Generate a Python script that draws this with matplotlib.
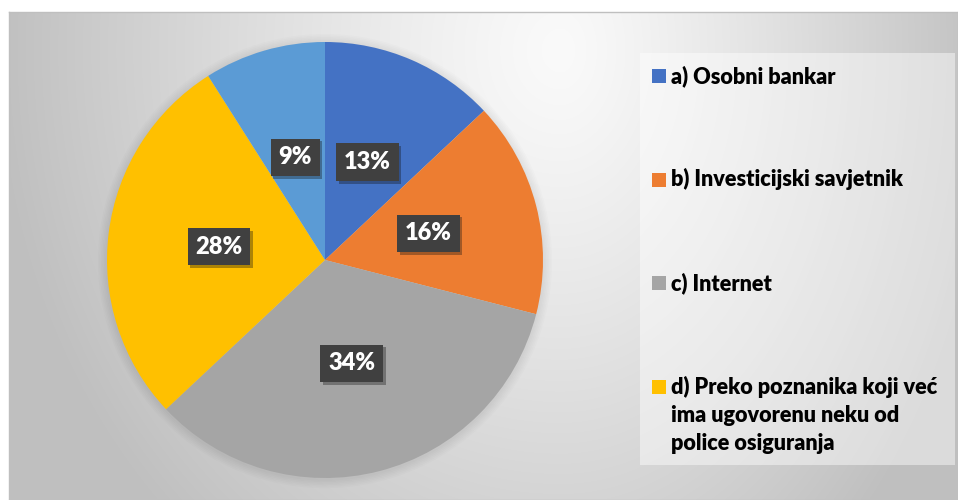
import numpy as np
import matplotlib.pyplot as plt
from matplotlib.patches import Rectangle, Circle
import matplotlib.patheffects as pe

# podaci
labels = ["a) Osobni bankar", "b) Investicijski savjetnik", "c) Internet",
          "d) Preko poznanika koji već\nima ugovorenu neku od\npolice osiguranja"]
values = [13, 16, 34, 28, 9]
colors = ["#4472C4", "#ED7D31", "#A5A5A5", "#FFC000", "#5B9BD5"]

W, H = 958, 500
fig = plt.figure(figsize=(W / 100, H / 100), dpi=100)
fig.patch.set_facecolor("white")

# pozadina s gradijentom
bg = fig.add_axes([9 / W, 0, 1 - 9 / W, 1 - 12 / H])
yy, xx = np.mgrid[12:H, 9:W]
dx = (xx - 560) / np.where(xx < 560, 1.3, 1.0)
dy = (yy - 50) / 1.5
d = np.clip(np.hypot(dx, dy) / 430, 0, 1)
v = 250 - 58 * d ** 1.2
bg.imshow(np.dstack([v, v, v]) / 255, aspect="auto", extent=(0, 1, 0, 1))
bg.set_xlim(0, 1)
bg.set_ylim(0, 1)
bg.set_xticks([])
bg.set_yticks([])
for s in bg.spines.values():
    s.set_color("#bfbfbf")
    s.set_linewidth(1)

# okvir legende
fig.patches.append(Rectangle((640 / W, 1 - 465 / H), 315 / W, 412 / H,
                             transform=fig.transFigure, fc="white", alpha=0.45,
                             ec="none", zorder=1))

# pita
R = 218
cx, cy = 325, 260
ax = fig.add_axes([(cx - R) / W, (H - cy - R) / H, 2 * R / W, 2 * R / H])
ax.set_facecolor("none")
for k in range(6):
    ax.add_patch(Circle((0, -0.005), 1 + 0.007 * (k + 1), color="black",
                        alpha=0.012, lw=0, zorder=0, clip_on=False))
wedges, _ = ax.pie(values, colors=colors, startangle=90, counterclock=False,
                   radius=1, wedgeprops=dict(linewidth=0))
for w in wedges:
    w.set_zorder(2)
ax.set_xlim(-1, 1)
ax.set_ylim(-1, 1)
ax.axis("off")

fam = ["Lato", "DejaVu Sans"]
for w, val in zip(wedges, values):
    ang = np.deg2rad((w.theta1 + w.theta2) / 2)
    t = ax.text(0.49 * np.cos(ang), 0.49 * np.sin(ang), f"{val}%",
                ha="center", va="center", color="white", fontsize=17,
                fontweight="heavy", family=fam, zorder=5,
                bbox=dict(boxstyle="square,pad=0.33", fc="#404040", ec="none"))
    t.get_bbox_patch().set_path_effects(
        [pe.SimplePatchShadow(offset=(2, -2), alpha=0.35), pe.Normal()])

# legenda
y0 = 83
for i, lab in enumerate(labels):
    base = y0 + i * 103.5
    fig.patches.append(Rectangle((652 / W, 1 - base / H), 14 / W, 14 / H,
                                 transform=fig.transFigure, fc=colors[i],
                                 ec="none", zorder=3))
    for j, line in enumerate(lab.split("\n")):
        fig.text(671 / W, 1 - (base + 28 * j) / H, line, ha="left",
                 va="baseline", fontsize=15.6, fontweight="heavy",
                 family=fam, color="black", zorder=4)

fig.savefig("out.png", dpi=100, facecolor=fig.get_facecolor())
